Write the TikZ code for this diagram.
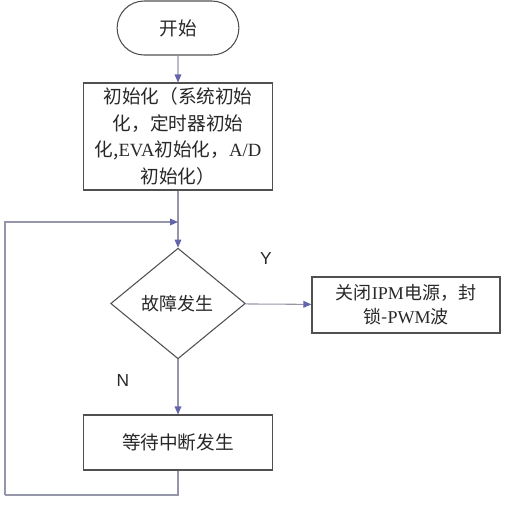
\documentclass[tikz,border=0pt]{standalone}
\usepackage{fontspec}
\setmainfont{Liberation Serif}
\newfontfamily\cjk{Noto Sans CJK SC}
\usepackage{tikz}
\usetikzlibrary{shapes.geometric,shapes.misc,arrows.meta,positioning,calc}
\definecolor{flowLine}{RGB}{150,150,170}
\definecolor{flowBorder}{RGB}{80,80,80}
\definecolor{flowTip}{RGB}{100,100,170}
\definecolor{flowText}{RGB}{40,40,40}
\newcommand{\lat}[1]{{\rmfamily #1}}

\begin{document}
\begin{tikzpicture}[x=0.75pt,y=-0.75pt,
  terminal/.style={rounded rectangle,draw=flowBorder,thick,minimum width=98pt,
                   minimum height=40.5pt,font=\cjk\fontsize{14}{20}\selectfont,text=flowText},
  procbox/.style={rectangle,draw=flowBorder,thick,minimum width=#1,align=center,
                  font=\cjk\fontsize{14}{20}\selectfont,text=flowText,inner sep=2pt},
  decision/.style={diamond,draw=flowBorder,thick,minimum width=101pt,minimum height=83pt,
                   inner sep=0pt,font=\cjk\fontsize{13.5}{18}\selectfont,text=flowText},
  flow/.style={draw=flowLine,thick,-{Triangle[length=6pt,width=5pt,color=flowTip]}},
  plain/.style={draw=flowLine,thick},
  answer/.style={font=\fontspec{Liberation Sans}\fontsize{13}{15}\selectfont,text=flowText}
]
\useasboundingbox (0,0) rectangle (506,508);
% start
\node[terminal] (start) at (178,28) {开始};
% init
\node[procbox=141.75pt,minimum height=80.25pt] (init) at (178,136.5) {
  初始化（系统初始\\
  化，定时器初始\\
  化,\lat{EVA}初始化，\lat{A/D}\\
  初始化）
};
% decision
\node[decision] (fault) at (178,303.5) {故障发生};
% shut down
\node[procbox=141pt,minimum height=42pt,font=\cjk\fontsize{13.5}{18}\selectfont] (stop) at (406,305) {
  关闭\lat{IPM}电源，封\\
  锁-\lat{PWM}波
};
% wait
\node[procbox=141.75pt,minimum height=41.25pt] (wait) at (178,442.5) {等待中断发生};
% Arrows
\coordinate (merge) at (178,222);
\coordinate (lowleft) at (5,495);
\draw[flow] (start) -- (init);
\draw[plain] (init) -- (merge);
\draw[flow] (merge) -- (fault);
\draw[flow] (fault) -- (stop);
\draw[flow] (fault) -- (wait);
\draw[plain] (wait.south) |- (lowleft);
\draw[flow] (lowleft) |- (merge);
% Labels
\node[answer] (yes) at (266,259) {Y};
\node[answer] (no) at (123,381) {N};
\end{tikzpicture}
\end{document}
